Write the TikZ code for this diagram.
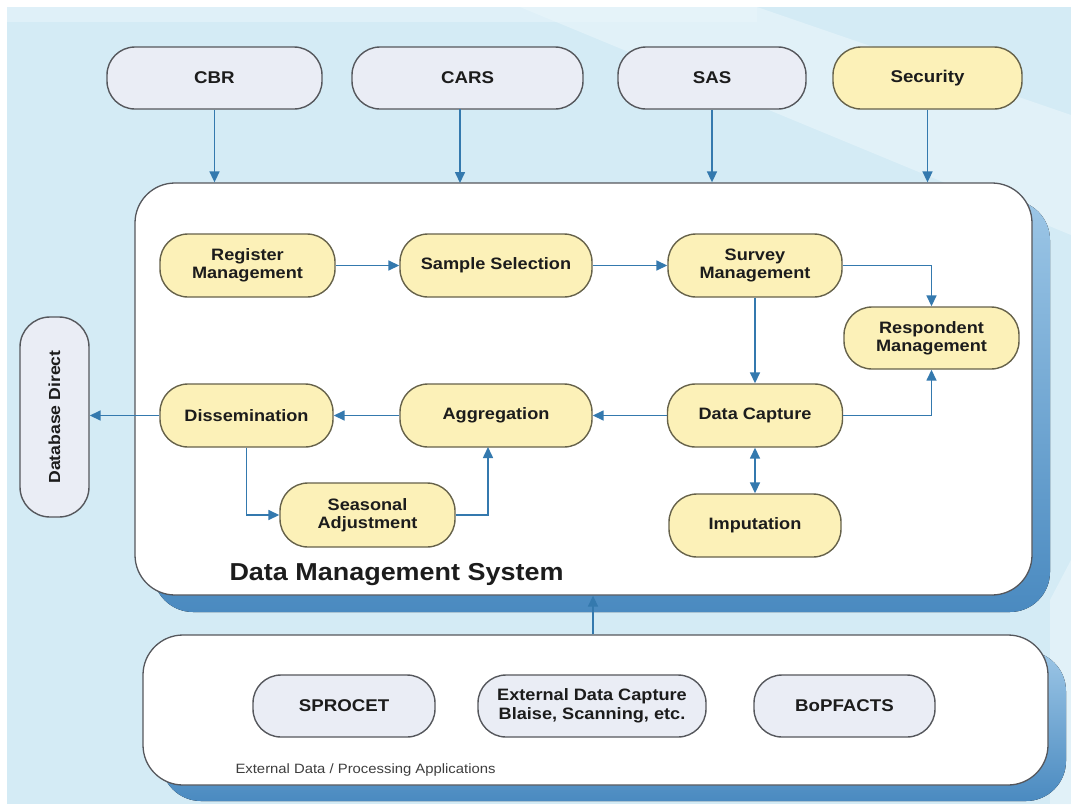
\documentclass[tikz,border=0pt]{standalone}
\usepackage{fontspec}
\setmainfont[FakeStretch=1.1]{Liberation Sans}
\usetikzlibrary{arrows.meta,shapes.misc}
\definecolor{bgblue}{HTML}{D4EBF5}
\definecolor{bglight}{HTML}{EAF6FB}
\definecolor{arrowblue}{HTML}{3479AE}
\definecolor{yfill}{HTML}{FCF1B8}
\definecolor{yborder}{HTML}{66624A}
\definecolor{gfill}{HTML}{EAEDF5}
\definecolor{gborder}{HTML}{55575C}
\definecolor{txt}{HTML}{1C1C1C}
\definecolor{shadowtop}{HTML}{9CC6E6}
\definecolor{shadowbot}{HTML}{4A8AC0}
\tikzset{
  box/.style={draw, line width=1.4pt, rounded corners=28pt, inner sep=0pt,
    minimum height=63pt, align=center, text=txt,
    font=\fontsize{16.5}{18}\selectfont\bfseries},
  ybox/.style={box, fill=yfill, draw=yborder},
  gbox/.style={box, fill=gfill, draw=gborder},
  topbox/.style={gbox, font=\fontsize{17}{19}\selectfont\bfseries},
  botbox/.style={gbox, font=\fontsize{17}{19}\selectfont\bfseries},
  conn/.style={draw=arrowblue, line width=1.6pt, -{Triangle[length=11pt,width=10pt]}},
  dconn/.style={draw=arrowblue, line width=1.6pt, {Triangle[length=11pt,width=10pt]}-{Triangle[length=11pt,width=10pt]}},
  bigbox/.style={draw=gborder, line width=1.3pt, fill=white, rounded corners=40pt, inner sep=0pt},
  shadowbox/.style={top color=shadowtop, bottom color=shadowbot, rounded corners=40pt}
}
\begin{document}
\begin{tikzpicture}[x=1pt,y=-1pt]
\useasboundingbox (0,0) rectangle (1071,804);
% background
\fill[white] (0,0) rectangle (1071,804);
\fill[bgblue] (7,7) rectangle (1071,804);
\fill[bglight, opacity=0.6] (520,7) -- (757,7) -- (1071,115) -- (1071,235) -- cycle;
\fill[bglight, opacity=0.5] (7,7) rectangle (757,22);
\fill[bglight, opacity=0.6] (1050,600) -- (1071,560) -- (1071,804) -- (1050,804) -- cycle;

% top nodes
\node[topbox, minimum width=215pt, minimum height=62pt] (cbr) at (214.5,78) {CBR};
\node[topbox, minimum width=231pt, minimum height=62pt] (cars) at (467.5,78) {CARS};
\node[topbox, minimum width=188pt, minimum height=62pt] (sas) at (712,78) {SAS};
\node[topbox, fill=yfill, draw=yborder, minimum width=189pt, minimum height=62pt] (sec) at (927.5,78) {Security};

% main box
\fill[shadowbox] (153,200) rectangle (1050,612);
\node[bigbox, minimum width=897pt, minimum height=412pt] (main) at (583.5,389) {};

% bottom box
\fill[shadowbox] (161,651) rectangle (1066,801);
\node[bigbox, minimum width=905pt, minimum height=150pt] (bottom) at (595.5,710) {};

% database direct
\node[gbox, minimum width=69pt, minimum height=200pt, rounded corners=30pt] (db) at (54.5,417) {};
\node[rotate=90, text=txt, font=\fontsize{16}{18}\selectfont\bfseries] (dbtext) at (db.center) {Database Direct};

% inner nodes
\node[ybox, minimum width=175pt] (reg) at (247.5,265.5) {Register\\Management};
\node[ybox, minimum width=192pt] (samp) at (496,265.5) {Sample Selection};
\node[ybox, minimum width=174pt] (surv) at (755,265.5) {Survey\\Management};
\node[ybox, minimum width=175pt, minimum height=62pt] (resp) at (931.5,338) {Respondent\\Management};
\node[ybox, minimum width=175pt] (dc) at (755,415.5) {Data Capture};
\node[ybox, minimum width=172pt] (imp) at (755,525.5) {Imputation};
\node[ybox, minimum width=192pt] (agg) at (496,415.5) {Aggregation};
\node[ybox, minimum width=173pt] (dis) at (246.5,415.5) {Dissemination};
\node[ybox, minimum width=175pt, minimum height=64pt] (sea) at (367.5,515) {Seasonal\\Adjustment};

\node[anchor=west, text=txt, font=\fontsize{24.5}{28}\selectfont\bfseries] (dms) at (226,575) {Data Management System};

% bottom nodes
\node[botbox, minimum width=182pt, minimum height=62pt] (spr) at (344,706) {SPROCET};
\node[botbox, minimum width=228pt, minimum height=62pt, font=\fontsize{16.5}{19}\selectfont\bfseries] (ext) at (592,706) {External Data Capture\\Blaise, Scanning, etc.};
\node[botbox, minimum width=181pt, minimum height=62pt] (bop) at (844.5,706) {BoPFACTS};
\node[anchor=west, text=txt!85, font=\fontsize{13.5}{15}\selectfont] (extlabel) at (232,770) {External Data / Processing Applications};

% connectors
\draw[conn] (cbr.south) -- (cbr.south |- main.north);
\draw[conn] (460,109) -- (460,183);
\draw[conn] (sas.south) -- (sas.south |- main.north);
\draw[conn] (sec.south) -- (sec.south |- main.north);

\draw[conn] (reg) -- (samp);
\draw[conn] (samp) -- (surv);
\draw[conn] (surv.east) -| (resp.north);
\draw[conn] (surv.south) -- (dc.north);
\draw[conn] (dc.east) -| (resp.south);
\draw[dconn] (dc.south) -- (imp.north);
\draw[conn] (dc) -- (agg);
\draw[conn] (agg) -- (dis);
\draw[conn] (dis.west) -- (dis.west -| db.east);
\draw[conn] (dis.south) |- (sea.west);
\coordinate (aggin) at (488,447);
\draw[conn] (sea.east) -| (aggin);
\draw[conn] (bottom.north -| 593,0) -- (main.south -| 593,0);
\end{tikzpicture}
\end{document}
